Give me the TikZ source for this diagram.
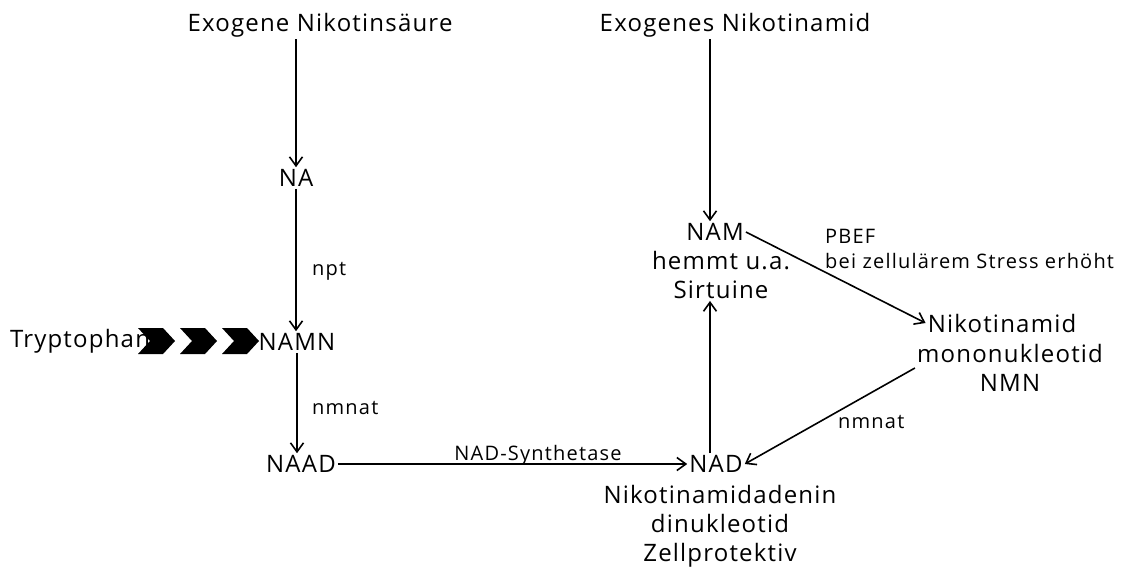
\documentclass[tikz,border=0pt]{standalone}
\usepackage{fontspec}
\setmainfont{Open Sans}
\usetikzlibrary{arrows.meta}

\tikzset{
    txt/.style={font=\fontsize{24}{29}\selectfont\addfontfeatures{LetterSpace=5}, inner sep=2pt, align=center},
    lbl/.style={font=\fontsize{20}{25}\selectfont\addfontfeatures{LetterSpace=6}, inner sep=0pt, anchor=base west},
    arr/.style={-{Straight Barb[length=9pt,width=13pt]}, line width=1.6pt},
}

\begin{document}
\begin{tikzpicture}[x=1pt, y=-1pt]
\useasboundingbox (0,0) rectangle (1131,571);

% ---- Ausgangsstoffe ----
\node[txt] (ns) at (320,25) {Exogene Nikotinsäure};
\node[txt] (nn) at (735,25) {Exogenes Nikotinamid};

% ---- linker Weg ----
\node[txt] (na)   at (296,178) {NA};
\node[txt] (namn) at (297,342) {NAMN};
\node[txt] (tryp) at (80,341)  {Tryptophan};
\node[txt] (naad) at (301,464) {NAAD};

% ---- NAD und Rückweg ----
\node[txt] (nad)     at (716,464) {NAD};
\node[txt] (naddesc) at (720,526) {Nikotinamidadenin\\dinukleotid\\Zellprotektiv};
\node[txt] (nam)     at (715,232) {NAM};
\node[txt] (namdesc) at (721,275) {hemmt u.a.\\Sirtuine};
\node[txt] (nmn)     at (1002,323) {Nikotinamid};
\node[txt] (nmndesc) at (1010,368) {mononukleotid\\NMN};
\coordinate (namx) at (710,0);

% ---- Pfeile ----
\draw[arr] (ns.south -| na) -- (na.north);
\draw[arr] (na.south) -- (na.south |- namn.north);
\draw[arr] (namn.south) -- (namn.south |- naad.north);
\draw[arr] (naad.east) -- (nad.west);
\draw[arr] (nn.south -| namx) -- (nam.north -| namx);
\draw[arr] (nad.north -| namx) -- (namdesc.south -| namx);
\draw[arr] (nam.east) -- (nmn.west);
\draw[arr] (nmndesc.west) -- (nad.east);

% ---- Tryptophan-Pfeile ----
\foreach \xa in {138, 180, 222} {
    \fill (\xa,328) -- ++(25,0) -- ++(12,13) -- ++(-12,13) -- ++(-25,0) -- ++(12,-13) -- cycle;
}

% ---- Enzyme ----
\node[lbl] (npt)    at (312,275) {npt};
\node[lbl] (nmnat)  at (312,414) {nmnat};
\node[lbl, anchor=base] (nadsyn) at (538,460) {NAD-Synthetase};
\node[lbl] (pbef)   at (825,243) {PBEF};
\node[lbl] (stress) at (825,268) {bei zellulärem Stress erhöht};
\node[lbl] (nmnatb) at (838,428) {nmnat};
\end{tikzpicture}
\end{document}
